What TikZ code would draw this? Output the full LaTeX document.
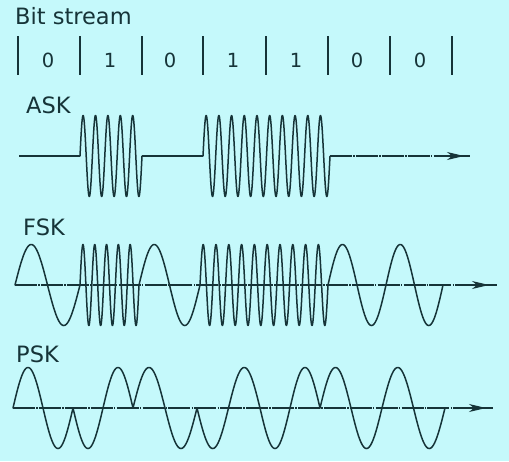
\documentclass[tikz,border=0pt]{standalone}
\usepackage{fontspec}
\setmainfont{DejaVu Sans}
\usetikzlibrary{arrows.meta}
\definecolor{bg}{RGB}{197,249,251}
\definecolor{ink}{RGB}{22,52,56}
\newcommand\wseg[5]{% x0, x1, ycenter, cycles, sign
  \draw[wave] plot[variable=\t, domain=0:1, samples=401] ({#1+\t*(#2-#1)}, {#3-(#5)*40.5*sin(\t*360*#4)});}
\tikzset{
  wave/.style={ink, line width=1.5pt, line join=round, line cap=round},
  bitbar/.style={ink, line width=1.8pt},
  axisline/.style={ink, line width=1.1pt, dash pattern=on 22pt off 1.2pt on 1.5pt off 1.2pt},
  baseln/.style={ink, line width=1.4pt},
  headarrow/.style={ink, line width=1.1pt, -{Stealth[length=17pt, width=8pt, inset=5pt]}},
  lbl/.style={ink, anchor=base west, inner sep=0pt, font=\fontsize{22.5}{26}\selectfont},
  digit/.style={ink, anchor=center, inner sep=0pt, font=\fontsize{19.5}{22}\selectfont}
}
\begin{document}
\begin{tikzpicture}[x=1pt, y=-1pt]
\fill[bg] (0,0) rectangle (509,461);
\useasboundingbox (0,0) rectangle (509,461);
% Bit stream
\node[lbl] (title) at (15,24) {Bit stream};
\foreach \xb in {18,80,142,203,266,328,390,452} {
  \draw[bitbar] (\xb,36) -- (\xb,75);
}
\foreach \d/\xc [count=\i] in {0/48,1/110,0/170,1/233,1/296,0/357,0/420} {
  \node[digit] (d\i) at (\xc,60) {\d};
}
% ASK
\node[lbl] (ask) at (26,113) {ASK};
\draw[baseln] (19,156) -- (80,156);
\wseg{80}{142}{156}{5}{1}
\draw[baseln] (142,156) -- (203,156);
\wseg{203}{330}{156}{10}{1}
\draw[axisline] (330,156) -- (470,156);
\draw[headarrow] (444,156) -- (464,156);
% FSK
\node[lbl] (fsk) at (23,235) {FSK};
\draw[axisline] (15,285) -- (497,285);
\draw[headarrow] (470,285) -- (489,285);
\wseg{15}{80}{285}{1}{1}
\wseg{80}{139}{285}{5}{1}
\wseg{139}{200}{285}{1}{1}
\wseg{200}{328}{285}{10}{1}
\wseg{328}{386}{285}{1}{1}
\wseg{386}{443}{285}{1}{1}
% PSK
\node[lbl] (psk) at (16,362) {PSK};
\draw[axisline] (13,408) -- (493,408);
\draw[headarrow] (467,408) -- (486,408);
\wseg{13}{73}{408}{1}{1}
\wseg{73}{133}{408}{1}{-1}
\wseg{133}{197}{408}{1}{1}
\wseg{197}{260}{408}{1}{-1}
\wseg{260}{320}{408}{1}{-1}
\wseg{320}{382}{408}{1}{1}
\wseg{382}{445}{408}{1}{1}
\end{tikzpicture}
\end{document}
